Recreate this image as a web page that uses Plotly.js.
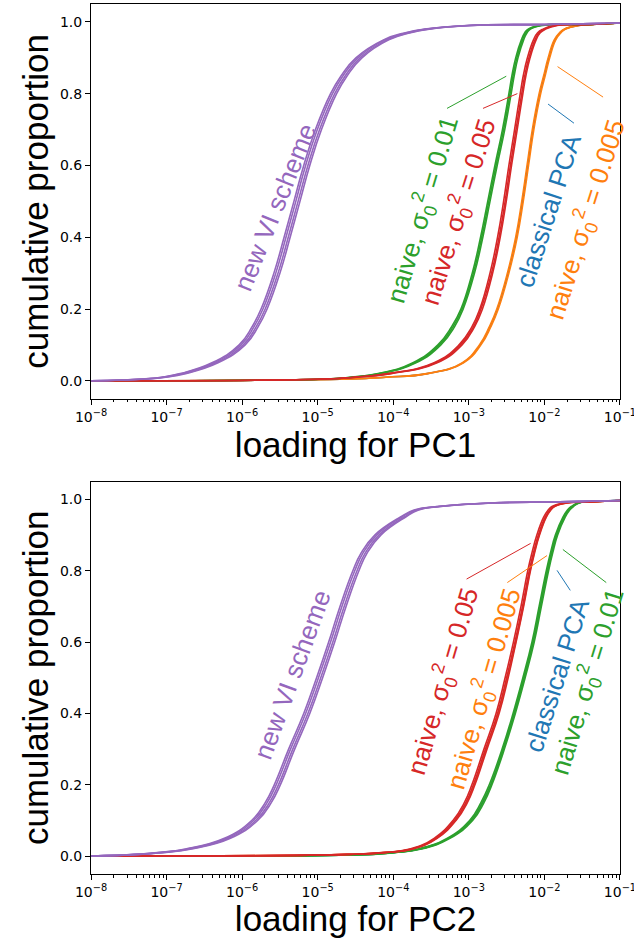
<!DOCTYPE html>
<html><head><meta charset="utf-8">
<script src="https://cdn.plot.ly/plotly-3.0.1.min.js"></script>
<style>html,body{margin:0;padding:0;background:#fff}</style>
</head><body><div id="chart" style="width:634px;height:938px"></div>
<script>
// cumulative proportion levels (y values of every curve)
const cumProp = [0, 0.005, 0.01, 0.02, 0.05, 0.1, 0.15, 0.2, 0.3, 0.4, 0.5, 0.6, 0.7, 0.8, 0.85, 0.9, 0.95, 0.97, 0.98, 0.99, 0.993, 0.997];

// ---- PC1 : log10(loading) of each run at the cumProp levels ----
const pc1NewVI = [
  [-8, -7.32, -7.07, -6.82, -6.40, -6.04, -5.87, -5.75, -5.58, -5.445, -5.315, -5.185, -5.03, -4.83, -4.69, -4.495, -4.13, -3.84, -3.585, -3.03, -2.0, -1],
  [-8, -7.30, -7.05, -6.80, -6.375, -6.015, -5.845, -5.725, -5.555, -5.42, -5.29, -5.16, -5.005, -4.805, -4.665, -4.47, -4.11, -3.82, -3.565, -3.01, -2.0, -1],
  [-8, -7.28, -7.03, -6.77, -6.345, -5.985, -5.815, -5.695, -5.525, -5.39, -5.26, -5.13, -4.975, -4.775, -4.635, -4.44, -4.08, -3.79, -3.545, -2.99, -2.0, -1],
  [-8, -7.26, -7.01, -6.75, -6.32, -5.96, -5.79, -5.67, -5.50, -5.365, -5.235, -5.105, -4.95, -4.75, -4.61, -4.415, -4.06, -3.77, -3.525, -2.97, -2.0, -1]
];
const pc1Naive001 = [
  [-8, -4.92, -4.57, -4.20, -3.74, -3.41, -3.23, -3.105, -2.955, -2.845, -2.75, -2.655, -2.555, -2.47, -2.43, -2.38, -2.305, -2.26, -2.215, -2.06, -1.4, -1],
  [-8, -4.90, -4.55, -4.18, -3.72, -3.39, -3.21, -3.09, -2.94, -2.83, -2.735, -2.64, -2.54, -2.455, -2.415, -2.365, -2.29, -2.245, -2.20, -2.05, -1.4, -1],
  [-8, -4.88, -4.53, -4.16, -3.70, -3.37, -3.19, -3.075, -2.925, -2.815, -2.72, -2.625, -2.525, -2.44, -2.40, -2.35, -2.275, -2.23, -2.185, -2.04, -1.4, -1]
];
const pc1Naive005 = [
  [-8, -4.92, -4.52, -4.07, -3.46, -3.13, -2.96, -2.855, -2.72, -2.62, -2.54, -2.47, -2.395, -2.32, -2.28, -2.225, -2.145, -2.09, -2.02, -1.87, -1.4, -1],
  [-8, -4.90, -4.50, -4.05, -3.44, -3.11, -2.94, -2.84, -2.70, -2.60, -2.52, -2.45, -2.376, -2.30, -2.26, -2.205, -2.125, -2.07, -2.00, -1.85, -1.4, -1],
  [-8, -4.88, -4.48, -4.03, -3.42, -3.09, -2.925, -2.82, -2.685, -2.585, -2.505, -2.435, -2.36, -2.285, -2.245, -2.19, -2.11, -2.055, -1.985, -1.83, -1.4, -1]
];
const pc1Naive0005 = [
  [-8, -4.61, -4.11, -3.56, -3.09, -2.86, -2.73, -2.63, -2.49, -2.38, -2.30, -2.23, -2.16, -2.07, -2.01, -1.95, -1.87, -1.80, -1.74, -1.56, -1.35, -1],
  [-8, -4.59, -4.09, -3.54, -3.07, -2.84, -2.71, -2.61, -2.47, -2.36, -2.28, -2.21, -2.14, -2.05, -1.99, -1.93, -1.85, -1.78, -1.72, -1.54, -1.35, -1]
];
const pc1ClassicalPCA = [
  [-8, -4.60, -4.10, -3.55, -3.08, -2.85, -2.72, -2.62, -2.48, -2.37, -2.29, -2.22, -2.15, -2.06, -2.00, -1.94, -1.86, -1.79, -1.73, -1.55, -1.35, -1]
];

// ---- PC2 : log10(loading) of each run at the cumProp levels ----
const pc2NewVI = [
  [-8, -7.42, -7.12, -6.75, -6.235, -5.875, -5.695, -5.575, -5.385, -5.185, -5.015, -4.855, -4.705, -4.535, -4.425, -4.245, -3.91, -3.725, -3.42, -2.72, -1.8, -1],
  [-8, -7.40, -7.10, -6.725, -6.21, -5.85, -5.67, -5.55, -5.36, -5.16, -4.99, -4.83, -4.68, -4.51, -4.40, -4.22, -3.89, -3.705, -3.405, -2.705, -1.8, -1],
  [-8, -7.38, -7.08, -6.695, -6.18, -5.82, -5.64, -5.52, -5.33, -5.13, -4.96, -4.80, -4.65, -4.48, -4.37, -4.19, -3.86, -3.685, -3.385, -2.685, -1.8, -1],
  [-8, -7.36, -7.06, -6.67, -6.155, -5.795, -5.615, -5.495, -5.305, -5.105, -4.935, -4.775, -4.625, -4.455, -4.345, -4.165, -3.84, -3.665, -3.37, -2.67, -1.8, -1]
];
const pc2Naive005 = [
  [-8, -4.62, -4.15, -3.78, -3.46, -3.21, -3.06, -2.96, -2.80, -2.64, -2.52, -2.41, -2.31, -2.22, -2.165, -2.10, -2.01, -1.95, -1.90, -1.74, -1.4, -1],
  [-8, -4.60, -4.13, -3.76, -3.44, -3.19, -3.04, -2.94, -2.78, -2.62, -2.50, -2.39, -2.29, -2.20, -2.145, -2.08, -1.99, -1.93, -1.88, -1.72, -1.4, -1],
  [-8, -4.58, -4.11, -3.74, -3.42, -3.17, -3.02, -2.92, -2.76, -2.60, -2.48, -2.375, -2.275, -2.185, -2.13, -2.065, -1.975, -1.915, -1.865, -1.70, -1.4, -1]
];
const pc2Naive0005 = [
  [-8, -4.60, -4.12, -3.75, -3.43, -3.18, -3.03, -2.93, -2.77, -2.61, -2.49, -2.38, -2.28, -2.19, -2.135, -2.07, -1.98, -1.92, -1.87, -1.71, -1.4, -1]
];
const pc2Naive001 = [
  [-8, -4.32, -4.02, -3.67, -3.29, -2.99, -2.84, -2.73, -2.56, -2.415, -2.285, -2.165, -2.07, -1.975, -1.92, -1.855, -1.755, -1.695, -1.645, -1.56, -1.4, -1],
  [-8, -4.30, -4.00, -3.65, -3.27, -2.97, -2.82, -2.71, -2.545, -2.40, -2.27, -2.15, -2.055, -1.96, -1.905, -1.84, -1.74, -1.68, -1.63, -1.55, -1.4, -1],
  [-8, -4.28, -3.98, -3.63, -3.25, -2.95, -2.80, -2.695, -2.53, -2.385, -2.255, -2.135, -2.04, -1.945, -1.89, -1.825, -1.725, -1.665, -1.615, -1.54, -1.4, -1]
];
const pc2ClassicalPCA = [
  [-8, -4.30, -4.00, -3.65, -3.27, -2.97, -2.82, -2.71, -2.545, -2.40, -2.27, -2.15, -2.055, -1.96, -1.905, -1.84, -1.74, -1.68, -1.63, -1.55, -1.4, -1]
];

const xTickExp = [-8, -7, -6, -5, -4, -3, -2, -1];
const xTickText = ['10<sup>−8</sup>', '10<sup>−7</sup>', '10<sup>−6</sup>', '10<sup>−5</sup>', '10<sup>−4</sup>', '10<sup>−3</sup>', '10<sup>−2</sup>', '10<sup>−1</sup>'];
const yTickVals = [0, 0.2, 0.4, 0.6, 0.8, 1.0];
const yTickText = ['0.0', '0.2', '0.4', '0.6', '0.8', '1.0'];

const C = {blue:'#1f77b4', orange:'#ff7f0e', green:'#2ca02c', red:'#d62728', purple:'#9467bd'};

const traces = [];
function addRuns(runs, color, xa, ya) {
  runs.forEach(run => {
    traces.push({
      x: run.map(v => Math.pow(10, v)), y: cumProp,
      xaxis: xa, yaxis: ya, type: 'scatter', mode: 'lines',
      line: {color: color, width: 1.6, shape: 'spline', smoothing: 1.3},
      showlegend: false, hoverinfo: 'skip'
    });
  });
}
// PC1 panel
addRuns(pc1ClassicalPCA, C.blue, 'x', 'y');
addRuns(pc1Naive0005, C.orange, 'x', 'y');
addRuns(pc1Naive001, C.green, 'x', 'y');
addRuns(pc1Naive005, C.red, 'x', 'y');
addRuns(pc1NewVI, C.purple, 'x', 'y');
// PC2 panel
addRuns(pc2ClassicalPCA, C.blue, 'x2', 'y2');
addRuns(pc2Naive001, C.green, 'x2', 'y2');
addRuns(pc2Naive0005, C.orange, 'x2', 'y2');
addRuns(pc2Naive005, C.red, 'x2', 'y2');
addRuns(pc2NewVI, C.purple, 'x2', 'y2');

const tickFont = {family: 'DejaVu Sans', size: 14, color: 'black'};
const titleFont = {family: 'Liberation Sans', size: 35, color: 'black'};
function xAxis(title, anchor) {
  return {
    type: 'log', range: [-8.0004, -0.9996], anchor: anchor, domain: [0, 1],
    tickmode: 'array', tickvals: xTickExp.map(v => Math.pow(10, v)), ticktext: xTickText,
    ticklabeloverflow: 'allow',
    showline: true, linecolor: 'black', linewidth: 1, mirror: true,
    ticks: 'outside', ticklen: 5, tickcolor: 'black', tickwidth: 1,
    minor: {ticks: 'outside', ticklen: 2.5, tickcolor: 'black', dtick: 'D1', showgrid: false},
    showgrid: false, zeroline: false, tickfont: tickFont,
    title: {text: title, font: titleFont, standoff: 6}, automargin: false
  };
}
function yAxis(domain, anchor) {
  return {
    range: [-0.05, 1.05], domain: domain, anchor: anchor,
    tickmode: 'array', tickvals: yTickVals, ticktext: yTickText,
    showline: true, linecolor: 'black', linewidth: 1, mirror: true,
    ticks: 'outside', ticklen: 5, tickcolor: 'black', tickwidth: 1,
    showgrid: false, zeroline: false, tickfont: tickFont,
    title: {text: 'cumulative proportion', font: titleFont, standoff: 0}, automargin: false
  };
}

const sig = 'σ<sub>0</sub><sup>2</sup>';
function lab(text, color, xa, ya, x, y, ang) {
  return {text: text, xref: xa, yref: ya, x: x, y: y, textangle: ang, showarrow: false,
          xanchor: 'center', yanchor: 'middle', font: {family: 'Liberation Sans', size: 26, color: color}};
}
function lead(color, x0, y0, x1, y1) {
  return {type: 'line', xref: 'paper', yref: 'paper', x0: x0, y0: y0, x1: x1, y1: y1,
          line: {color: color, width: 1}};
}

const layout = {
  width: 634, height: 938,
  margin: {l: 91, r: 14, t: 4, b: 64},
  paper_bgcolor: 'white', plot_bgcolor: 'white',
  xaxis: xAxis('loading for PC1', 'y'),
  yaxis: yAxis([0.5463, 1], 'x'),
  xaxis2: xAxis('loading for PC2', 'y2'),
  yaxis2: yAxis([0, 0.4511], 'x2'),
  annotations: [
    lab('new VI scheme', C.purple, 'x', 'y', -5.563, 0.484, -68),
    lab('naive, ' + sig + ' = 0.01', C.green, 'x', 'y', -3.616, 0.476, -73.5),
    lab('naive, ' + sig + ' = 0.05', C.red, 'x', 'y', -3.139, 0.470, -72.5),
    lab('classical PCA', C.blue, 'x', 'y', -1.947, 0.476, -72),
    lab('naive, ' + sig + ' = 0.005', C.orange, 'x', 'y', -1.457, 0.451, -72.4),
    lab('new VI scheme', C.purple, 'x2', 'y2', -5.342, 0.509, -70),
    lab('naive, ' + sig + ' = 0.05', C.red, 'x2', 'y2', -3.344, 0.491, -73.6),
    lab('naive, ' + sig + ' = 0.005', C.orange, 'x2', 'y2', -2.795, 0.470, -73.9),
    lab('classical PCA', C.blue, 'x2', 'y2', -1.832, 0.508, -72.4),
    lab('naive, ' + sig + ' = 0.01', C.green, 'x2', 'y2', -1.434, 0.488, -73)
  ],
  shapes: [
    lead(C.green, 0.673, 0.880, 0.785, 0.917),
    lead(C.red, 0.741, 0.880, 0.806, 0.897),
    lead(C.blue, 0.864, 0.885, 0.913, 0.863),
    lead(C.orange, 0.882, 0.928, 0.968, 0.893),
    lead(C.red, 0.710, 0.339, 0.831, 0.380),
    lead(C.orange, 0.787, 0.335, 0.862, 0.366),
    lead(C.blue, 0.881, 0.349, 0.906, 0.326),
    lead(C.green, 0.892, 0.373, 0.974, 0.335)
  ]
};

Plotly.newPlot('chart', traces, layout, {staticPlot: true, displayModeBar: false});
</script></body></html>
